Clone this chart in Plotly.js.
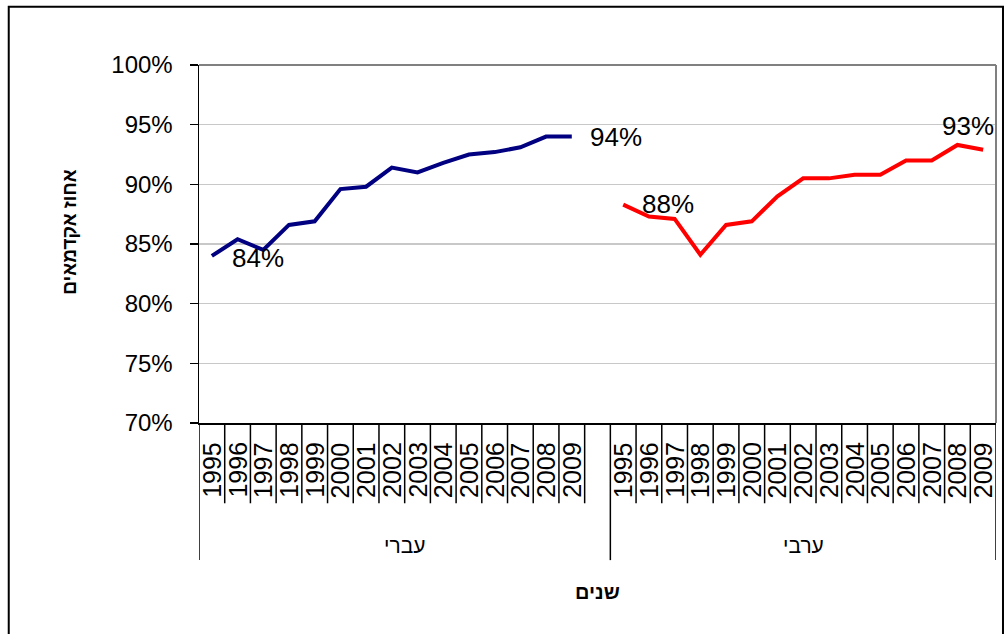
<!DOCTYPE html>
<html>
<head>
<meta charset="utf-8">
<script src="https://cdn.plot.ly/plotly-3.0.1.min.js"></script>
<style>
html,body{margin:0;padding:0;background:#fff;}
#chart{width:1005px;height:634px;}
</style>
</head>
<body>
<div id="chart"></div>
<script>
// ---- data ----
const years = ['1995','1996','1997','1998','1999','2000','2001','2002','2003','2004','2005','2006','2007','2008','2009'];
const groups = ['עברי', 'ערבי'];
const hebrewValues = [84.0, 85.4, 84.5, 86.6, 86.9, 89.6, 89.8, 91.4, 91.0, 91.8, 92.5, 92.7, 93.1, 94.0, 94.0];
const arabValues   = [88.3, 87.3, 87.1, 84.1, 86.6, 86.9, 89.0, 90.5, 90.5, 90.8, 90.8, 92.0, 92.0, 93.3, 92.9];
const yTicks = [70, 75, 80, 85, 90, 95, 100];
const yTitle = 'אחוז אקדמאים';
const xTitle = 'שנים';

// ---- layout helpers ----
const W = 1005, H = 634;
const M = {l: 198.5, r: 8.5, t: 64.5, b: 210.5};
const PW = W - M.l - M.r, PH = H - M.t - M.b;
const px = x => (x - M.l) / PW;          // pixel x -> paper
const py = y => (H - M.b - y) / PH;      // pixel y -> paper

const n = years.length;
const groupStart = [0, n + 1];           // one blank slot after first group
const xs = g => years.map((_, i) => groupStart[g] + i);
const FONT = 'Arial, "Liberation Sans", sans-serif';

const traces = [
  {x: xs(0), y: hebrewValues, mode: 'lines', line: {color: '#000080', width: 4}, hoverinfo: 'skip'},
  {x: xs(1), y: arabValues, mode: 'lines', line: {color: '#FF0000', width: 4}, hoverinfo: 'skip'}
];

const annotations = [];
// year labels
[0, 1].forEach(g => {
  years.forEach((yr, i) => {
    annotations.push({
      x: groupStart[g] + i, xref: 'x', y: 0, yref: 'paper',
      text: yr, showarrow: false, textangle: -90,
      xanchor: 'center', yanchor: 'top', yshift: -17,
      font: {family: FONT, size: 25, color: '#000'}
    });
  });
});
// group labels
const groupCenters = [(-0.5 + n + 0.5) / 2, (n + 0.5 + 2 * n + 0.5) / 2];
groups.forEach((gname, g) => {
  annotations.push({
    x: groupCenters[g], xref: 'x', y: py(546), yref: 'paper',
    text: gname, showarrow: false, xanchor: 'center', yanchor: 'middle',
    font: {family: FONT, size: 21, color: '#000'}
  });
});
// data labels
const lbl = (g, idx, vals, opts) => Object.assign({
  x: groupStart[g] + idx, xref: 'x', y: vals[idx], yref: 'y',
  text: Math.round(vals[idx]) + '%', showarrow: false,
  font: {family: FONT, size: 26, color: '#000'}
}, opts);
annotations.push(lbl(0, 0, hebrewValues, {xanchor: 'left', yanchor: 'middle', xshift: 18, yshift: -2}));
annotations.push(lbl(0, n - 1, hebrewValues, {xanchor: 'left', yanchor: 'middle', xshift: 16}));
annotations.push(lbl(1, 0, arabValues, {xanchor: 'left', yanchor: 'middle', xshift: 17, yshift: 1}));
annotations.push(lbl(1, n - 2, arabValues, {xanchor: 'center', yanchor: 'bottom', xshift: 11, yshift: 2}));
// axis titles
annotations.push({
  x: px(68), xref: 'paper', y: py(232), yref: 'paper', text: '<b>' + yTitle + '</b>',
  showarrow: false, textangle: -90, xanchor: 'center', yanchor: 'middle',
  font: {family: FONT, size: 19, color: '#000'}
});
annotations.push({
  x: px(597), xref: 'paper', y: py(593), yref: 'paper', text: '<b>' + xTitle + '</b>',
  showarrow: false, xanchor: 'center', yanchor: 'middle',
  font: {family: FONT, size: 20, color: '#000'}
});

const shapes = [];
// category separators
const lastX = groupStart[1] + n - 1;
for (let b = -0.5; b <= lastX + 0.5; b += 1) {
  const isGroup = (b === -0.5) || (b === groupStart[1] - 0.5) || (b === lastX + 0.5);
  shapes.push({type: 'line', xref: 'x', yref: 'paper', x0: b, x1: b, y0: 0,
    y1: isGroup ? py(561) : py(504), line: {color: '#000', width: 1.5}});
}
// plot frame (top & right gray)
shapes.push({type: 'line', xref: 'paper', yref: 'paper', x0: 0, x1: 1, y0: 1, y1: 1, line: {color: '#808080', width: 2}});
shapes.push({type: 'line', xref: 'paper', yref: 'paper', x0: 1, x1: 1, y0: 0, y1: 1, line: {color: '#808080', width: 2}});
// outer chart border
shapes.push({type: 'rect', xref: 'paper', yref: 'paper', x0: px(8), x1: px(1003.5), y0: py(645), y1: py(6),
  line: {color: '#000', width: 2}, fillcolor: 'rgba(0,0,0,0)'});

const layout = {
  width: W, height: H,
  margin: M,
  paper_bgcolor: '#fff', plot_bgcolor: '#fff',
  showlegend: false,
  font: {family: FONT, color: '#000'},
  xaxis: {
    range: [-0.5, lastX + 0.5], showticklabels: false, ticks: '',
    showgrid: false, zeroline: false, showline: true, linecolor: '#000', linewidth: 1.5, fixedrange: true
  },
  yaxis: {
    range: [70, 100], tickvals: yTicks, ticktext: yTicks.map(v => v + '%'),
    ticks: 'outside', ticklen: 8, tickwidth: 1.5, tickcolor: '#000',
    ticklabelstandoff: 12,
    showgrid: true, gridcolor: '#c8c8c8', gridwidth: 1.5,
    zeroline: false, showline: true, linecolor: '#000', linewidth: 1.5,
    tickfont: {family: FONT, size: 24, color: '#000'}, fixedrange: true
  },
  annotations: annotations,
  shapes: shapes
};

Plotly.newPlot('chart', traces, layout, {staticPlot: true, displayModeBar: false});
</script>
</body>
</html>
